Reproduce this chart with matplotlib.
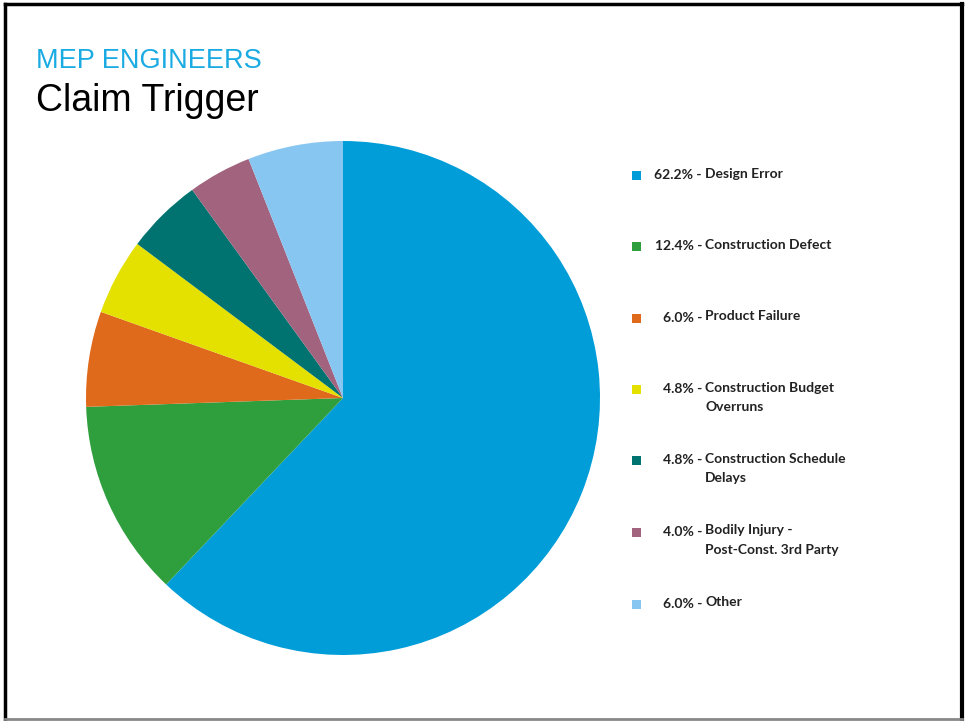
import matplotlib.pyplot as plt
from matplotlib.patches import Rectangle
from matplotlib.lines import Line2D

# claim trigger breakdown for MEP engineers
shares = [62.2, 12.4, 6.0, 4.8, 4.8, 4.0, 6.0]
names = ["Design Error", "Construction Defect", "Product Failure",
         "Construction Budget\nOverruns", "Construction Schedule\nDelays",
         "Bodily Injury -\nPost-Const. 3rd Party", "Other"]
colors = ["#009dd8", "#2f9f3d", "#df6a1c", "#e4e100", "#00726f", "#a1637d", "#88c6f2"]

W, H = 965, 721
fig = plt.figure(figsize=(W / 100, H / 100), dpi=100)

# pie area (pixel based placement)
cx, cy, r = 343, 398, 257
ax = fig.add_axes([(cx - r) / W, (H - cy - r) / H, 2 * r / W, 2 * r / H])
ax.pie(shares, colors=colors, startangle=90, counterclock=False,
       wedgeprops=dict(linewidth=0))
ax.set_xlim(-1, 1)
ax.set_ylim(-1, 1)
ax.set_aspect("equal")
ax.axis("off")

# legend drawn by hand so the second lines hang under the names
row_y = [175, 246, 318, 389, 460, 532, 604]
for y, pct, name, c in zip(row_y, shares, names, colors):
    fig.add_artist(Rectangle((632 / W, 1 - (y + 4.5) / H), 9 / W, 9 / H,
                             transform=fig.transFigure, color=c, lw=0))
    fig.text(702 / W, 1 - y / H, f"{pct:.1f}% -", ha="right", va="center",
             fontsize=10, family="Lato", weight="bold", color="#222222")
    fig.text(705 / W, 1 - (y - 7.5) / H, name, ha="left", va="top",
             fontsize=10, family="Lato", weight="bold", color="#222222",
             linespacing=1.75)

fig.text(36 / W, 1 - 68 / H, "MEP ENGINEERS", fontsize=19.5,
         family="Liberation Sans", color="#1aabe3", va="baseline")
fig.text(36 / W, 1 - 111 / H, "Claim Trigger", fontsize=27,
         family="Liberation Sans", color="black", va="baseline")

# frame around the slide
for xs, ys, col, lw in [([5, 5], [4, 719], "black", 2.5),
                        ([5, 962], [4, 4], "black", 2.5),
                        ([962, 962], [4, 719], "black", 3),
                        ([5, 962], [719, 719], "#888888", 2)]:
    fig.add_artist(Line2D([x / W for x in xs], [1 - y / H for y in ys],
                          transform=fig.transFigure, color=col, lw=lw))

fig.savefig("out.png", dpi=100)
